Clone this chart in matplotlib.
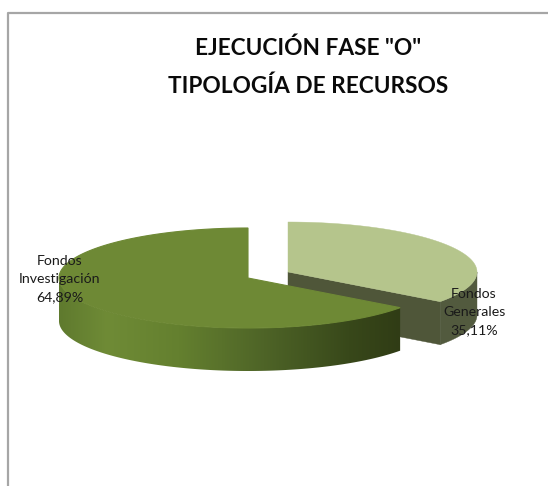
import numpy as np
import matplotlib
matplotlib.use("Agg")
import matplotlib.pyplot as plt
from matplotlib.colors import LinearSegmentedColormap
from matplotlib.patches import Polygon

categories = ["Fondos\nGenerales", "Fondos\nInvestigación"]
values = [35.11, 64.89]
title = 'EJECUCIÓN FASE "O"\nTIPOLOGÍA DE RECURSOS'

plt.rcParams["font.family"] = ["Lato", "DejaVu Sans"]

fig = plt.figure(figsize=(5.48, 4.86), dpi=100)
ax = fig.add_axes([0, 0, 1, 1])

rx, ry, depth = 189, 50, 43


def arc(cx, cy, a0, a1, drop=0):
    t = np.radians(np.linspace(a0, a1, 200))
    return np.column_stack([cx + rx * np.cos(t), cy - ry * np.sin(t) + drop])


# los angulos salen de los valores, el primer sector arranca arriba y va en sentido horario
split = 90 - values[0] / sum(values) * 360

# sector claro (separado a la derecha)
cx1, cy1 = 288, 272
end1 = arc(cx1, cy1, split, split)[0]
ax.add_patch(Polygon([(cx1, cy1), end1, end1 + [0, depth], (cx1, cy1 + depth)],
                     fc="#4f5639", ec="#4f5639", lw=0.3, zorder=1))
top = arc(cx1, cy1, split, 0)
bottom = arc(cx1, cy1, 0, split, depth)
ax.add_patch(Polygon(np.vstack([top, bottom]), fc="#525a3e", ec="#525a3e", lw=0.3, zorder=1))
ax.add_patch(Polygon(np.vstack([[(cx1, cy1)], arc(cx1, cy1, 90, split)]),
                     fc="#b5c58c", ec="#b5c58c", lw=0.3, zorder=2))

# sector grande, la pared lleva degradado
cx2, cy2 = 248, 278
cmap = LinearSegmentedColormap.from_list("pared", [
    (0.0, "#5f7a2e"), (0.14, "#6f8b36"), (0.35, "#64802f"),
    (0.6, "#4e6427"), (0.85, "#38481a"), (1.0, "#303c15")])
grad = ax.imshow(np.linspace(0, 1, 256).reshape(1, -1), cmap=cmap, aspect="auto",
                 extent=(cx2 - rx, cx2 + rx * np.cos(np.radians(split)), 400, 250), zorder=3)
wall = Polygon(np.vstack([arc(cx2, cy2, 180, 360 + split),
                          arc(cx2, cy2, 360 + split, 180, depth)]),
               transform=ax.transData, fc="none", lw=0)
ax.add_patch(wall)
grad.set_clip_path(wall)
ax.add_patch(Polygon(np.vstack([[(cx2, cy2)], arc(cx2, cy2, 90, 360 + split)]),
                     fc="#6e8935", ec="#6e8935", lw=0.8, zorder=4))

ax.set_xlim(0, 548)
ax.set_ylim(486, 0)
ax.axis("off")

# marco del grafico, solo se ve arriba y a la izquierda
ax.plot([8, 8, 548], [486, 13, 13], color="#a6a6a6", lw=1.6, zorder=5)

ax.text(308, 67, title, ha="center", va="center", fontsize=16.3, fontweight="bold",
        color="#0a0a0a", linespacing=1.95, zorder=6)

label_pos = [(474, 312), (60, 279)]
for name, val, (x, y) in zip(categories, values, label_pos):
    txt = name + "\n" + f"{val:.2f}".replace(".", ",") + "%"
    ax.text(x, y, txt, ha="center", va="center", fontsize=10.2, color="#1a1a1a",
            linespacing=1.6, zorder=6)

fig.savefig("out.png", dpi=100)
